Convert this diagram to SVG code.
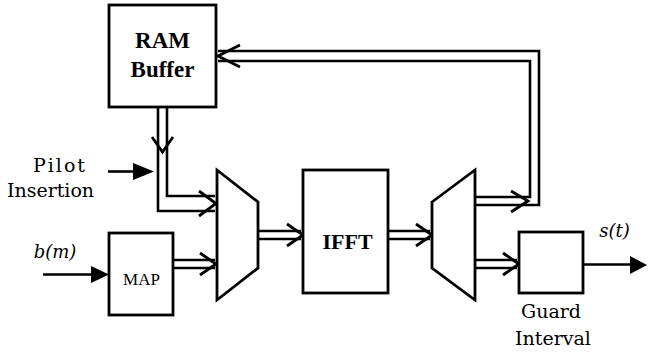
<svg xmlns="http://www.w3.org/2000/svg" width="665" height="353" viewBox="0 0 665 353">
  <style>
    .box { fill: #fff; stroke: #000; stroke-width: 2.8; }
    .ln { fill: none; stroke: #000; stroke-width: 2.6; stroke-linejoin: miter; }
    .chev { fill: none; stroke: #000; stroke-width: 2.8; stroke-linejoin: miter; }
    .head { fill: #000; stroke: none; }
    .lbl { font-family: "DejaVu Serif", "Liberation Serif", serif; font-size: 19px; fill: #000; }
    .bold { font-family: "Liberation Serif", "Times New Roman", serif; font-weight: bold; fill: #000; }
    .ital { font-family: "DejaVu Serif", "Liberation Serif", serif; font-style: italic; font-size: 18px; fill: #000; }
  </style>

  <rect width="665" height="353" fill="#fff"/>

  <!-- connectors -->
  <g id="connectors">
    <!-- RAM buffer down to upper mux input (two rails) -->
    <path class="ln" d="M158,107 V211 H215"/>
    <path class="ln" d="M167,107 V196 H215"/>
    <polyline class="chev" points="152,137 162.5,152 173,137"/>
    <polyline class="chev" points="199,191 216,203.5 199,216"/>

    <!-- pilot insertion -->
    <line class="ln" x1="108" y1="171.5" x2="135" y2="171.5"/>
    <polygon class="head" points="133,163 154,171.5 133,180"/>

    <!-- b(m) into MAP -->
    <line class="ln" x1="43" y1="274.5" x2="93" y2="274.5"/>
    <polygon class="head" points="91,266 109,274.5 91,283"/>

    <!-- MAP to mux -->
    <path class="ln" d="M173,260 H215 M173,268 H215"/>
    <polyline class="chev" points="200,253 216,264 200,275"/>

    <!-- mux to IFFT -->
    <path class="ln" d="M258,231 H301 M258,239 H301"/>
    <polyline class="chev" points="287,224 303,235 287,246"/>

    <!-- IFFT to demux -->
    <path class="ln" d="M388,231 H430 M388,239 H430"/>
    <polyline class="chev" points="416,224 432,235 416,246"/>

    <!-- demux feedback loop to RAM buffer -->
    <path class="ln" d="M475,197 H530 V61 H218"/>
    <path class="ln" d="M475,205 H539 V51 H218"/>
    <polyline class="chev" points="511,191 528,201 511,212"/>
    <polyline class="chev" points="240,45 218,56 240,67"/>

    <!-- demux to guard interval -->
    <path class="ln" d="M475,260 H517 M475,268 H517"/>
    <polyline class="chev" points="503,253 519,264 503,275"/>

    <!-- output s(t) -->
    <line class="ln" x1="583" y1="264.5" x2="632" y2="264.5"/>
    <polygon class="head" points="630,256 647,265 630,274"/>
  </g>

  <!-- RAM buffer -->
  <g id="ram">
    <rect class="box" x="109" y="5" width="107" height="102"/>
    <text class="bold" x="162.5" y="48" font-size="23" text-anchor="middle">RAM</text>
    <text class="bold" x="162.5" y="77" font-size="23" text-anchor="middle">Buffer</text>
  </g>

  <!-- pilot insertion label -->
  <g id="pilot">
    <text class="lbl" x="60" y="172" text-anchor="middle" letter-spacing="2">Pilot</text>
    <text class="lbl" x="50.5" y="197" text-anchor="middle">Insertion</text>
  </g>

  <!-- input label -->
  <g id="input">
    <text class="ital" x="55" y="258" text-anchor="middle">b(m)</text>
  </g>

  <!-- mapper -->
  <g id="map">
    <rect class="box" x="109" y="233" width="64" height="82"/>
    <text x="141.5" y="285" font-family="Liberation Serif, serif" font-size="17" text-anchor="middle">MAP</text>
  </g>

  <!-- multiplexer -->
  <g id="mux">
    <polygon class="box" points="217,170 258,202 258,268 217,300"/>
  </g>

  <!-- IFFT -->
  <g id="ifft">
    <rect class="box" x="303" y="170" width="85" height="123"/>
    <text class="bold" x="347.5" y="249" font-size="22" text-anchor="middle">IFFT</text>
  </g>

  <!-- demultiplexer -->
  <g id="demux">
    <polygon class="box" points="432,202 475,170 475,300 432,268"/>
  </g>

  <!-- guard interval -->
  <g id="guard">
    <rect class="box" x="519" y="232" width="64" height="61"/>
    <text class="lbl" x="551" y="318" text-anchor="middle">Guard</text>
    <text class="lbl" x="553" y="345" text-anchor="middle">Interval</text>
  </g>

  <!-- output label -->
  <g id="output">
    <text class="ital" x="614.5" y="237" text-anchor="middle">s(t)</text>
  </g>
</svg>
